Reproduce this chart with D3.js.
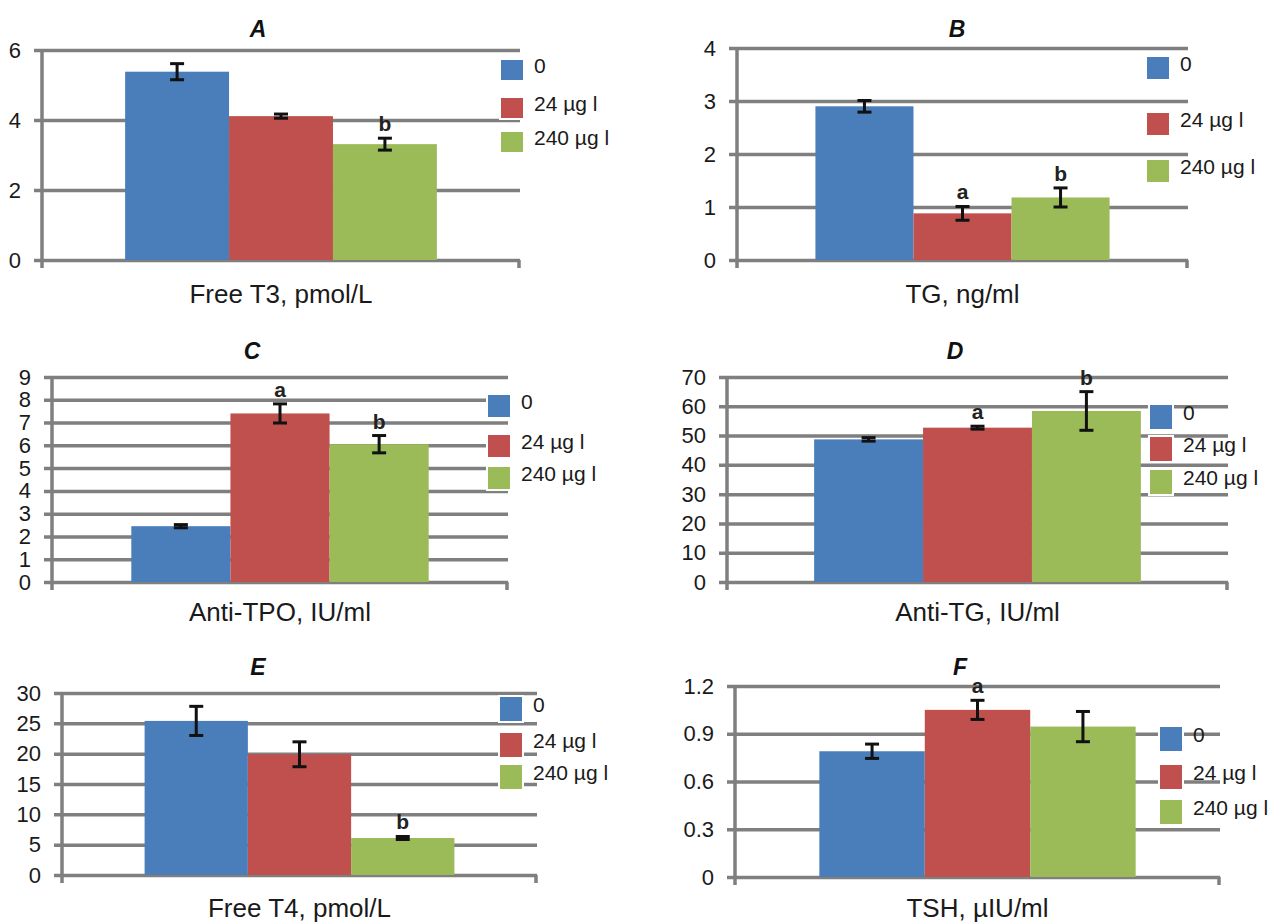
<!DOCTYPE html>
<html lang="en">
<head>
<meta charset="UTF-8">
<title>Thyroid panels</title>
<style>
  html, body { margin: 0; padding: 0; background: #fff; }
  svg { display: block; font-family: "Liberation Sans", Arial, sans-serif; }
</style>
</head>
<body>
<svg id="chart" width="1271" height="922"></svg>
<script src="https://d3js.org/d3.v7.min.js"></script>
<script>
// groups and colours
const groups = ["0", "24 µg l", "240 µg l"];
const colors = ["#4a7ebb", "#c0504d", "#9bbb59"];

// one entry per panel
const letters = ["A", "B", "C", "D", "E", "F"];
const measures = ["Free T3, pmol/L", "TG, ng/ml", "Anti-TPO, IU/ml", "Anti-TG, IU/ml", "Free T4, pmol/L", "TSH, µIU/ml"];
const means = [
  [5.38, 4.11, 3.31],
  [2.90, 0.88, 1.18],
  [2.45, 7.40, 6.05],
  [48.7, 52.7, 58.4],
  [25.4, 19.9, 6.1],
  [0.79, 1.05, 0.945]
];
const errors = [
  [0.23, 0.06, 0.17],
  [0.11, 0.13, 0.18],
  [0.07, 0.42, 0.38],
  [0.6, 0.5, 6.6],
  [2.4, 2.05, 0.25],
  [0.045, 0.06, 0.095]
];
const marks = [
  ["", "", "b"],
  ["", "a", "b"],
  ["", "a", "b"],
  ["", "a", "b"],
  ["", "", "b"],
  ["", "a", ""]
];
const yMax = [6, 4, 9, 70, 30, 1.2];
const yStep = [2, 1, 1, 10, 5, 0.3];

// panel frames (layout only)
const frames = [
  { x0: 42,  x1: 520,  top: 50,  bot: 260, tx: 258, ty: 37,  ay: 303, lx: 501,  ly: [60, 98, 132],  lh: 20 },
  { x0: 737, x1: 1188, top: 48,  bot: 260, tx: 957, ty: 37,  ay: 303, lx: 1147, ly: [57, 113, 160], lh: 22 },
  { x0: 52,  x1: 508,  top: 377, bot: 582, tx: 252, ty: 359, ay: 621, lx: 488,  ly: [395, 435, 467], lh: 22 },
  { x0: 727, x1: 1228, top: 377, bot: 582, tx: 955, ty: 359, ay: 621, lx: 1150, ly: [405, 437, 470], lh: 24 },
  { x0: 62,  x1: 537,  top: 693, bot: 875, tx: 258, ty: 675, ay: 917, lx: 500,  ly: [697, 733, 765], lh: 24 },
  { x0: 735, x1: 1220, top: 686, bot: 877, tx: 960, ty: 675, ay: 917, lx: 1160, ly: [727, 765, 800], lh: 24 }
];

const svg = d3.select("#chart");
const gridColor = "#7f7f7f";

letters.forEach((letter, i) => {
  const f = frames[i];
  const g = svg.append("g");

  const y = d3.scaleLinear().domain([0, yMax[i]]).range([f.bot, f.top]);
  const x = d3.scaleBand().domain(groups).range([f.x0, f.x1])
    .paddingInner(0).paddingOuter(0.8);

  const ticks = d3.range(0, yMax[i] + yStep[i] / 2, yStep[i]);
  const fmt = yStep[i] < 1 ? (d => d === 0 ? "0" : d3.format(".1f")(d)) : d3.format("d");

  // gridlines and y axis through d3.axisLeft
  const axis = g.append("g")
    .attr("transform", `translate(${f.x0},0)`)
    .call(d3.axisLeft(y).tickValues(ticks).tickFormat(fmt)
      .tickSize(-(f.x1 - f.x0)).tickPadding(21).tickSizeOuter(0));
  axis.select(".domain").remove();
  axis.selectAll(".tick line")
    .attr("x1", -8).attr("x2", f.x1 - f.x0)
    .attr("stroke", gridColor).attr("stroke-width", 3.5);
  axis.selectAll(".tick text")
    .attr("fill", "#1a1a1a").attr("font-size", 22);

  // vertical axis line and the end ticks at the base
  g.append("line").attr("x1", f.x0).attr("x2", f.x0)
    .attr("y1", f.top).attr("y2", f.bot + 8)
    .attr("stroke", gridColor).attr("stroke-width", 3.5);
  g.append("line").attr("x1", f.x1 - 1).attr("x2", f.x1 - 1)
    .attr("y1", f.bot).attr("y2", f.bot + 8)
    .attr("stroke", gridColor).attr("stroke-width", 3.5);

  // bars
  g.selectAll("rect.bar").data(groups).join("rect")
    .attr("class", "bar")
    .attr("x", d => x(d))
    .attr("width", x.bandwidth())
    .attr("y", (d, j) => y(means[i][j]))
    .attr("height", (d, j) => y(0) - y(means[i][j]))
    .attr("fill", (d, j) => colors[j]);

  // error bars
  const eb = g.selectAll("g.err").data(groups).join("g").attr("class", "err")
    .attr("transform", d => `translate(${x(d) + x.bandwidth() / 2},0)`);
  eb.append("line")
    .attr("y1", (d, j) => y(means[i][j] - errors[i][j]))
    .attr("y2", (d, j) => y(means[i][j] + errors[i][j]))
    .attr("stroke", "#111").attr("stroke-width", 3);
  [-1, 1].forEach(s => {
    eb.append("line")
      .attr("x1", -7).attr("x2", 7)
      .attr("y1", (d, j) => y(means[i][j] + s * errors[i][j]))
      .attr("y2", (d, j) => y(means[i][j] + s * errors[i][j]))
      .attr("stroke", "#111").attr("stroke-width", 3);
  });

  // significance letters
  eb.append("text")
    .attr("y", (d, j) => y(means[i][j] + errors[i][j]) - 7)
    .attr("text-anchor", "middle")
    .attr("font-size", 21).attr("font-weight", "bold").attr("fill", "#222")
    .text((d, j) => marks[i][j]);

  // panel title
  g.append("text").attr("x", f.tx).attr("y", f.ty)
    .attr("text-anchor", "middle").attr("font-size", 23)
    .attr("font-weight", "bold").attr("font-style", "italic").attr("fill", "#111")
    .text(letter);

  // category label
  g.append("text").attr("x", (f.x0 + f.x1) / 2).attr("y", f.ay)
    .attr("text-anchor", "middle").attr("font-size", 26).attr("fill", "#1a1a1a")
    .text(measures[i]);

  // legend
  const lg = g.selectAll("g.leg").data(groups).join("g").attr("class", "leg")
    .attr("transform", (d, j) => `translate(${f.lx},${f.ly[j]})`);
  lg.append("rect").attr("x", -2).attr("y", -2).attr("width", 26).attr("height", f.lh + 4)
    .attr("fill", "#fff");
  lg.append("rect").attr("width", 22).attr("height", f.lh)
    .attr("fill", (d, j) => colors[j]);
  lg.append("text").attr("x", 33).attr("y", f.lh / 2 + 3)
    .attr("font-size", 21).attr("fill", "#1a1a1a")
    .text(d => d);
});
</script>
</body>
</html>
